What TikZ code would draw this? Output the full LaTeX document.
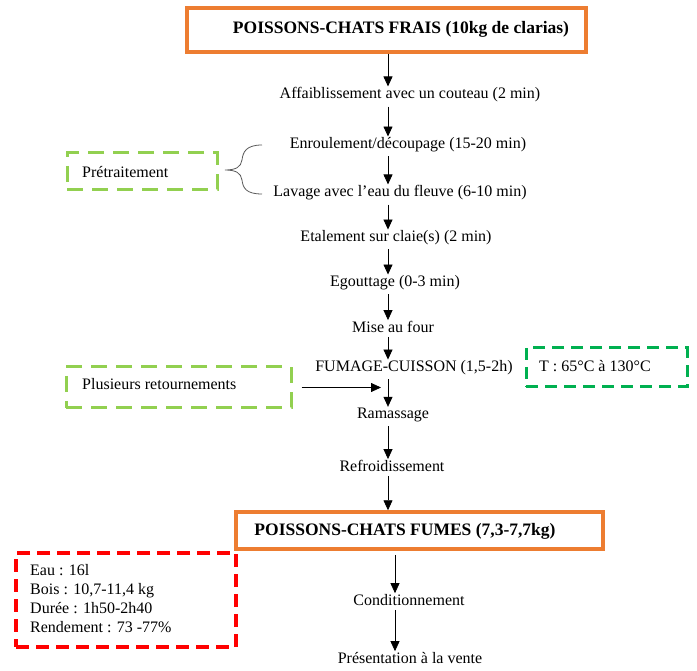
\documentclass[tikz,border=0pt]{standalone}
\usepackage{fontspec}
\setmainfont{Liberation Serif}
\usetikzlibrary{arrows.meta}
\definecolor{orangeoff}{HTML}{ED7D31}
\definecolor{vertclair}{HTML}{92D050}
\definecolor{vertfonce}{HTML}{00B050}
\tikzset{
  etape/.style={inner sep=0pt, font=\fontsize{16}{19}\selectfont},
  titre/.style={inner sep=0pt, font=\fontsize{17.5}{20}\selectfont\bfseries},
  cadre/.style={draw=orangeoff, line width=3.5pt, inner sep=0pt},
  tirets/.style={inner sep=0pt, line width=3pt, dash pattern=on 16pt off 9pt},
  fleche/.style={-{Triangle[length=10pt,width=9pt]}, line width=0.8pt},
}
\begin{document}
\begin{tikzpicture}[x=1pt,y=-1pt]
  \useasboundingbox (0,0) rectangle (697,671);
  \coordinate (axe) at (388,0);
  \coordinate (axebas) at (395,0);
  % cadres
  \node[cadre, minimum width=399pt, minimum height=44pt] (frais) at (386.5,30) {};
  \node[titre] (fraistxt) at (401,29) {POISSONS-CHATS FRAIS (10kg de clarias)};
  \node[cadre, minimum width=367pt, minimum height=37pt] (fumes) at (419.5,530.5) {};
  \node[titre] (fumestxt) at (405,531) {POISSONS-CHATS FUMES (7,3-7,7kg)};
  % etapes
  \node[etape] (aff) at (410,95) {Affaiblissement avec un couteau (2 min)};
  \node[etape] (enr) at (408,145) {Enroulement/découpage (15-20 min)};
  \node[etape] (lav) at (400,193) {Lavage avec l’eau du fleuve (6-10 min)};
  \node[etape] (eta) at (396,238) {Etalement sur claie(s) (2 min)};
  \node[etape] (ego) at (395,283) {Egouttage (0-3 min)};
  \node[etape] (mise) at (393,327) {Mise au four};
  \node[etape] (fum) at (414,368) {FUMAGE-CUISSON (1,5-2h)};
  \node[etape] (ram) at (393,415) {Ramassage};
  \node[etape] (refr) at (392,466) {Refroidissement};
  \node[etape] (cond) at (409,600) {Conditionnement};
  \node[etape] (pres) at (410,658) {Présentation à la vente};
  % remarques
  \node[tirets, draw=vertclair, minimum width=150pt, minimum height=37pt] (pret) at (142,171.5) {};
  \node[etape, anchor=west] (prettxt) at (82,172) {Prétraitement};
  \node[tirets, draw=vertclair, minimum width=225pt, minimum height=41pt] (plus) at (178.5,387.5) {};
  \node[etape, anchor=west] (plustxt) at (82,384) {Plusieurs retournements};
  \node[tirets, draw=vertfonce, dash pattern=on 12pt off 7pt, minimum width=161pt, minimum height=39pt] (temp) at (606.5,367.5) {};
  \node[etape, anchor=west] (temptxt) at (539,366) {T : 65°C à 130°C};
  \node[tirets, draw=red, line width=3.5pt, dash pattern=on 13pt off 7pt, minimum width=220pt, minimum height=94pt] (bilan) at (126,600) {};
  \node[etape, anchor=west, align=left, font=\fontsize{16}{19}\selectfont] (bilantxt) at (30,599)
    {Eau : 16l\\Bois : 10,7-11,4 kg\\Durée : 1h50-2h40\\Rendement : 73 -77\%};
  % accolade
  \draw[black!65, line width=0.8pt] (262,145) .. controls (246,145) and (243,152) .. (242,160)
    .. controls (241,167) and (236,170) .. (225,170)
    .. controls (236,170) and (241,173) .. (242,180)
    .. controls (243,188) and (246,194) .. (262,194);
  % fleches
  \draw[fleche] (frais.south -| axe) -- ([yshift=1pt]aff.north -| axe);
  \draw[fleche] (aff.south -| axe) ++(0,4) -- ([yshift=1pt]enr.north -| axe);
  \draw[fleche] (enr.south -| axe) ++(0,4) -- ([yshift=1pt]lav.north -| axe);
  \draw[fleche] (lav.south -| axe) ++(0,4) -- ([yshift=1pt]eta.north -| axe);
  \draw[fleche] (eta.south -| axe) ++(0,4) -- ([yshift=1pt]ego.north -| axe);
  \draw[fleche] (ego.south -| axe) ++(0,4) -- ([yshift=1pt]mise.north -| axe);
  \draw[fleche] (mise.south -| axe) ++(0,4) -- ([yshift=1pt]fum.north -| axe);
  \draw[fleche] (fum.south -| axe) ++(0,4) -- ([yshift=1pt]ram.north -| axe);
  \draw[fleche] (ram.south -| axe) ++(0,4) -- ([yshift=1pt]refr.north -| axe);
  \draw[fleche] (refr.south -| axe) ++(0,4) -- (fumes.north -| axe);
  \draw[fleche] (fumes.south -| axebas) ++(0,4) -- ([yshift=1pt]cond.north -| axebas);
  \draw[fleche] (cond.south -| axebas) ++(0,4) -- ([yshift=1pt]pres.north -| axebas);
  \draw[fleche, shorten <=9pt, shorten >=7pt] (plus.east) -- (plus.east -| axe);
\end{tikzpicture}
\end{document}
